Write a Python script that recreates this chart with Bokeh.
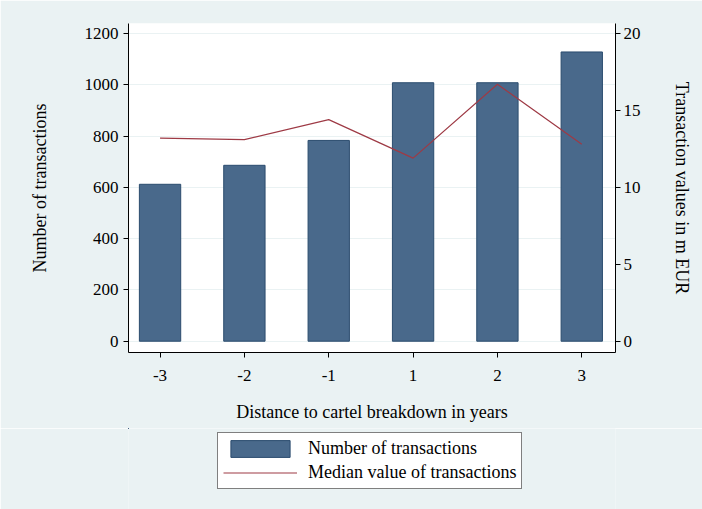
from bokeh.plotting import figure
from bokeh.layouts import column
from bokeh.models import (ColumnDataSource, Range1d, LinearAxis, FixedTicker,
                          Legend, LegendItem)
from bokeh.embed import file_html
from bokeh.resources import INLINE

# ---- data ----
categories = ["-3", "-2", "-1", "1", "2", "3"]
n_transactions = [612, 686, 783, 1008, 1008, 1128]
median_value = [13.2, 13.1, 14.4, 11.9, 16.7, 12.8]
left_ticks = [0, 200, 400, 600, 800, 1000, 1200]
right_ticks = [0, 5, 10, 15, 20]
legend_labels = ["Number of transactions", "Median value of transactions"]

FONT = "Liberation Serif"
FS = "17px"
FT = "18px"
BG = "#EAF2F3"
BAR_FILL = "#49698B"
BAR_LINE = "#2B4C6E"
LINE_COL = "#9E3A45"

xpos = list(range(len(categories)))
src = ColumnDataSource(dict(x=xpos, n=n_transactions, med=median_value))

p = figure(width=702, height=428, output_backend="svg",
           toolbar_location=None,
           x_range=Range1d(-0.374, 5.40), y_range=Range1d(-44, 1239),
           min_border_left=128, min_border_right=87, min_border_top=23,
           min_border_bottom=76)
p.extra_y_ranges = {"val": Range1d(-44 / 60, 1239 / 60)}

p.border_fill_color = BG
p.background_fill_color = "white"
p.outline_line_color = None
p.xgrid.visible = False
p.ygrid.grid_line_color = BG
p.ygrid.grid_line_width = 1
p.ygrid.ticker = FixedTicker(ticks=left_ticks)

bar_style = dict(fill_color=BAR_FILL, line_color=BAR_LINE, line_width=1)
line_style = dict(line_color=LINE_COL, line_width=1.2)

bars = p.vbar(x="x", top="n", width=0.49, source=src, **bar_style)
ln = p.line(x="x", y="med", source=src, y_range_name="val", **line_style)


def style_axis(ax):
    ax.axis_line_color = "black"
    ax.axis_line_width = 1
    ax.major_tick_line_color = "black"
    ax.major_tick_out = 5
    ax.major_tick_in = 0
    ax.minor_tick_line_color = None
    ax.major_label_text_font = FONT
    ax.major_label_text_font_size = FS
    ax.major_label_text_color = "black"
    ax.axis_label_text_font = FONT
    ax.axis_label_text_font_size = FT
    ax.axis_label_text_font_style = "normal"
    ax.axis_label_text_color = "black"


# left axis
yl = p.yaxis[0]
style_axis(yl)
yl.ticker = FixedTicker(ticks=left_ticks)
yl.axis_label = "Number of transactions"
yl.major_label_standoff = 5
yl.axis_label_standoff = 32
yl.major_label_orientation = "horizontal"

# right axis
yr = LinearAxis(y_range_name="val", ticker=FixedTicker(ticks=right_ticks),
                axis_label="Transaction values in m EUR")
style_axis(yr)
yr.major_label_standoff = 3
yr.axis_label_standoff = 28
yr.major_label_orientation = "horizontal"
p.add_layout(yr, "right")

# bottom axis
xb = p.xaxis[0]
style_axis(xb)
xb.ticker = FixedTicker(ticks=xpos)
xb.major_label_overrides = {i: c for i, c in zip(xpos, categories)}
xb.axis_label = "Distance to cartel breakdown in years"
xb.major_label_standoff = 12
xb.axis_label_standoff = 18

# ---- legend strip (separate figure below the chart) ----
# same data drawn again but far outside this strip's ranges (off canvas),
# so the legend has renderers of its own to sample its glyphs from
lf = figure(width=702, height=81, output_backend="svg", toolbar_location=None,
            x_axis_type=None, y_axis_type=None,
            x_range=Range1d(100, 101), y_range=Range1d(-20000, -19999),
            min_border_left=128, min_border_right=87, min_border_top=0,
            min_border_bottom=0)
lf.grid.visible = False
lf.outline_line_color = None
lf.border_fill_color = BG
lf.background_fill_color = BG
lbar = lf.vbar(x="x", top="n", width=0.49, source=src, **bar_style)
lline = lf.line(x="x", y="n", source=src, **line_style)

legend = Legend(items=[LegendItem(label=legend_labels[0], renderers=[lbar]),
                       LegendItem(label=legend_labels[1], renderers=[lline])],
                location=(89, 20), orientation="vertical")
legend.label_text_font = FONT
legend.label_text_font_size = FT
legend.label_text_color = "black"
legend.glyph_width = 74
legend.glyph_height = 21
legend.label_height = 21
legend.label_standoff = 11
legend.padding = 5
legend.spacing = 3
legend.margin = 0
legend.border_line_color = "black"
legend.border_line_width = 1
legend.background_fill_color = "white"
legend.background_fill_alpha = 1
lf.add_layout(legend, "center")

layout = column(p, lf, spacing=0)
open("out.html", "w").write(file_html(layout, INLINE))
